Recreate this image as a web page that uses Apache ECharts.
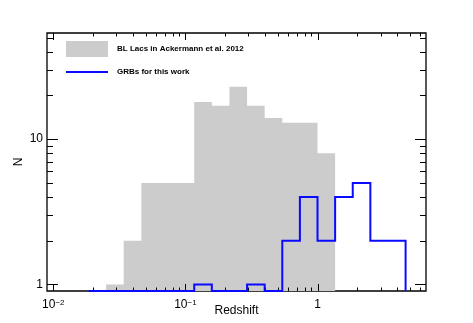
<!DOCTYPE html>
<html>
<head>
<meta charset="utf-8">
<script src="https://cdn.jsdelivr.net/npm/echarts@6/dist/echarts.min.js"></script>
<style>
html, body { margin: 0; padding: 0; background: #fff; }
#main { width: 473px; height: 323px; }
</style>
</head>
<body>
<div id="main"></div>
<script>
// redshift bin edges (equal width in log z) and counts per bin
var binEdges = [0.0185, 0.0251, 0.0341, 0.0464, 0.0631, 0.0858, 0.1166, 0.1585, 0.2154, 0.2929,
                0.3981, 0.5412, 0.7356, 1.0, 1.3594, 1.8478, 2.5119, 3.4146, 4.6416];
var blLacCounts = [0, 1, 2, 5, 5, 5, 18, 17, 23, 17, 14, 13, 13, 8, 0, 0, 0, 0];
var grbCounts   = [0, 0, 0, 0, 0, 0, 1, 0, 0, 1, 0, 2, 4, 2, 4, 5, 2, 2];

var seriesNames = ['BL Lacs in Ackermann et al. 2012', 'GRBs for this work'];

// axis ticks (log axes, drawn inside on all four sides)
var xMajorTicks = [0.01, 0.1, 1];
var xMinorTicks = [0.02, 0.03, 0.04, 0.05, 0.06, 0.07, 0.08, 0.09,
                   0.2, 0.3, 0.4, 0.5, 0.6, 0.7, 0.8, 0.9, 2, 3, 4, 5, 6];
var yMajorTicks = [1, 10];
var yMinorTicks = [2, 3, 4, 5, 6, 7, 8, 9, 20, 30, 40, 50];

var xMin = 0.00896, xMax = 6.625;
var yMin = 0.902, yMax = 53.8;

var FONT = "'Liberation Sans', Arial, Helvetica, sans-serif";

var myChart = echarts.init(document.getElementById('main'));

function decadeLabel(v) {
  var l = Math.log10(v);
  var e = Math.round(l);
  if (Math.abs(l - e) > 1e-6) return '';
  if (e === 0) return '1';
  if (e === 1) return '10';
  return '{b|10}{s|\u2212' + (-e) + '}';
}

// histogram outline as step points; zero bins sit on the bottom of the frame
function stepPoints(api, counts) {
  var bottom = api.coord([1, yMin])[1];
  function px(v) { return api.coord([v, 1])[0]; }
  function py(c) { return c > 0 ? api.coord([1, c])[1] : bottom; }
  var pts = [[px(binEdges[0]), bottom]];
  counts.forEach(function (c, i) {
    pts.push([px(binEdges[i]), py(c)]);
    pts.push([px(binEdges[i + 1]), py(c)]);
  });
  pts.push([px(binEdges[binEdges.length - 1]), bottom]);
  return pts;
}

function renderGray(params, api) {
  return {
    type: 'polygon',
    shape: { points: stepPoints(api, blLacCounts) },
    style: { fill: '#cccccc' }
  };
}

function renderBlue(params, api) {
  return {
    type: 'polyline',
    shape: { points: stepPoints(api, grbCounts) },
    style: { fill: null, stroke: '#0a0aff', lineWidth: 2, lineJoin: 'miter' }
  };
}

function renderTicks(params, api) {
  var cs = params.coordSys;
  var top = cs.y, bottom = cs.y + cs.height;
  var left = cs.x, right = cs.x + cs.width;
  var kids = [];
  function line(x1, y1, x2, y2) {
    kids.push({ type: 'line', shape: { x1: x1, y1: y1, x2: x2, y2: y2 },
                style: { stroke: '#000', lineWidth: 1 } });
  }
  function xt(v, len) {
    var x = Math.round(api.coord([v, 1])[0]) + 0.5;
    line(x, bottom, x, bottom - len);
    line(x, top, x, top + len);
  }
  function yt(v, len) {
    var y = Math.round(api.coord([1, v])[1]) + 0.5;
    line(left, y, left + len, y);
    line(right, y, right - len, y);
  }
  xMajorTicks.forEach(function (v) { xt(v, 7); });
  xMinorTicks.forEach(function (v) { xt(v, 3.5); });
  yMajorTicks.forEach(function (v) { yt(v, 11); });
  yMinorTicks.forEach(function (v) { yt(v, 6); });
  return { type: 'group', children: kids };
}

var option = {
  animation: false,
  textStyle: { fontFamily: FONT },
  grid: {
    left: 47, right: 47, top: 33, bottom: 32,
    outerBoundsMode: 'none', containLabel: false,
    show: true, borderColor: '#000', borderWidth: 1.3, backgroundColor: 'transparent'
  },
  xAxis: {
    type: 'log', logBase: 10, min: xMin, max: xMax,
    name: 'Redshift', nameLocation: 'middle', nameGap: 14, nameMoveOverlap: false,
    nameTextStyle: { fontSize: 12, color: '#000', fontFamily: FONT },
    axisLine: { show: false },
    axisTick: { show: false },
    splitLine: { show: false },
    axisLabel: {
      formatter: decadeLabel, margin: 8, fontSize: 12, color: '#000', fontFamily: FONT,
      rich: {
        b: { fontSize: 12, color: '#000', fontFamily: FONT },
        s: { fontSize: 8, color: '#000', fontFamily: FONT, verticalAlign: 'top' }
      }
    }
  },
  yAxis: {
    type: 'log', logBase: 10, min: yMin, max: yMax,
    name: 'N', nameLocation: 'middle', nameGap: 22, nameRotate: 90, nameMoveOverlap: false,
    nameTextStyle: { fontSize: 12, color: '#000', fontFamily: FONT },
    axisLine: { show: false },
    axisTick: { show: false },
    splitLine: { show: false },
    axisLabel: { formatter: decadeLabel, margin: 4, fontSize: 12, color: '#000', fontFamily: FONT }
  },
  graphic: [
    { type: 'rect', left: 66, top: 41, shape: { width: 42, height: 16 }, style: { fill: '#cccccc' } },
    { type: 'text', left: 117, top: 45, style: { text: seriesNames[0], fill: '#000',
      font: 'bold 8px ' + FONT } },
    { type: 'line', shape: { x1: 66, y1: 72, x2: 108, y2: 72 }, style: { stroke: '#0a0aff', lineWidth: 2 } },
    { type: 'text', left: 117, top: 68, style: { text: seriesNames[1], fill: '#000',
      font: 'bold 8px ' + FONT } }
  ],
  series: [
    {
      name: seriesNames[0], type: 'custom', renderItem: renderGray,
      encode: { x: 0, y: 1 }, data: [[1, 1]], z: 1
    },
    {
      name: seriesNames[1], type: 'custom', renderItem: renderBlue,
      encode: { x: 0, y: 1 }, data: [[1, 1]], z: 3
    },
    {
      name: 'ticks', type: 'custom', renderItem: renderTicks,
      encode: { x: 0, y: 1 }, data: [[1, 1]], z: 2, silent: true
    }
  ]
};
myChart.setOption(option);
</script>
</body>
</html>
